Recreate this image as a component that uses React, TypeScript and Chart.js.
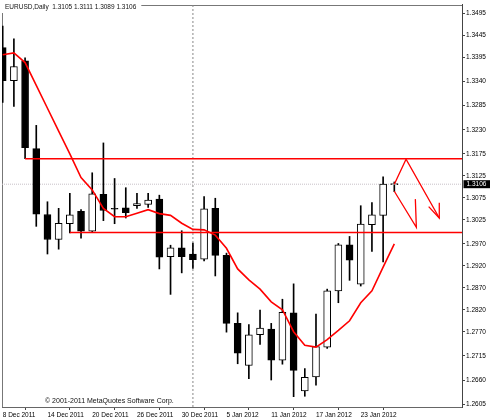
import React, { useEffect, useRef } from "react";
import { Chart, registerables } from "chart.js";

Chart.register(...registerables);

const FONT = '"Liberation Sans", Arial, sans-serif';

const barDates = [
  "8 Dec 2011", "9 Dec 2011", "12 Dec 2011", "13 Dec 2011", "14 Dec 2011", "15 Dec 2011",
  "16 Dec 2011", "19 Dec 2011", "20 Dec 2011", "21 Dec 2011", "22 Dec 2011", "23 Dec 2011",
  "26 Dec 2011", "27 Dec 2011", "28 Dec 2011", "29 Dec 2011", "30 Dec 2011", "2 Jan 2012",
  "3 Jan 2012", "4 Jan 2012", "5 Jan 2012", "6 Jan 2012", "9 Jan 2012", "10 Jan 2012",
  "11 Jan 2012", "12 Jan 2012", "13 Jan 2012", "16 Jan 2012", "17 Jan 2012", "18 Jan 2012",
  "19 Jan 2012", "20 Jan 2012", "23 Jan 2012", "24 Jan 2012", "25 Jan 2012", "26 Jan 2012",
];

const opens = [
  1.3417, 1.3342, 1.3387, 1.3187, 1.3037, 1.2980, 1.3016, 1.3044, 1.2999, 1.3083, 1.3050, 1.3052,
  1.3057, 1.3060, 1.3072, 1.2941, 1.2961, 1.2947, 1.2935, 1.3051, 1.2944, 1.2789, 1.2693, 1.2763,
  1.2776, 1.2705, 1.2813, 1.2635, 1.2667, 1.2735, 1.2863, 1.2968, 1.2878, 1.3014, 1.3035, 1.3105,
];
const highs = [
  1.3466, 1.3437, 1.3394, 1.3240, 1.3066, 1.3051, 1.3085, 1.3048, 1.3132, 1.3200, 1.3119, 1.3098,
  1.3085, 1.3085, 1.3081, 1.2967, 1.3000, 1.2972, 1.3078, 1.3074, 1.2949, 1.2813, 1.2786, 1.2819,
  1.2789, 1.2844, 1.2879, 1.2686, 1.2810, 1.2867, 1.2971, 1.2987, 1.3057, 1.3064, 1.3123, 1.3111,
];
const lows = [
  1.3292, 1.3283, 1.3164, 1.3010, 1.2947, 1.2958, 1.2995, 1.2983, 1.2998, 1.3023, 1.3016, 1.3029,
  1.3051, 1.3053, 1.2913, 1.2855, 1.2904, 1.2914, 1.2931, 1.2897, 1.2769, 1.2697, 1.2663, 1.2741,
  1.2660, 1.2696, 1.2622, 1.2623, 1.2648, 1.2732, 1.2836, 1.2887, 1.2874, 1.2953, 1.2929, 1.3089,
];
const closes = [
  1.3342, 1.3374, 1.3189, 1.3038, 1.2980, 1.3017, 1.3036, 1.2999, 1.3084, 1.3046, 1.3049, 1.3041,
  1.3062, 1.3070, 1.2940, 1.2961, 1.2941, 1.2934, 1.3050, 1.2944, 1.2789, 1.2721, 1.2763, 1.2778,
  1.2705, 1.2814, 1.2682, 1.2666, 1.2736, 1.2863, 1.2968, 1.2933, 1.3015, 1.3036, 1.3106, 1.3106,
];
const maValues = [
  1.3401, 1.3405, 1.3383, 1.3331, 1.3279, 1.3227, 1.3175, 1.3121, 1.3093, 1.3051, 1.3032, 1.3032,
  1.3040, 1.3048, 1.3039, 1.3035, 1.3017, 1.3003, 1.3002, 1.2990, 1.2960, 1.2913, 1.2888, 1.2867,
  1.2838, 1.2820, 1.2770, 1.2739, 1.2735, 1.2752, 1.2773, 1.2795, 1.2836, 1.2863, 1.2917, 1.2970,
];

const xTickBars = [0, 4, 8, 12, 16, 20, 24, 28, 32];
const yTickValues = [
  1.3495, 1.3445, 1.3395, 1.334, 1.3285, 1.323, 1.3175, 1.3125, 1.3075, 1.3025, 1.297, 1.292,
  1.287, 1.282, 1.277, 1.2715, 1.266, 1.2605,
];

const currentPrice = 1.3106;
const separatorBar = 17;
const levelStartBars = [2, 6];
const levelValues = [1.3164, 1.2996];

const arrow1X = [35, 36.05, 39.02];
const arrow1Y = [1.3106, 1.3163, 1.3029];
const arrow1HeadX = [38.07, 39.02, 39.02];
const arrow1HeadY = [1.3055, 1.3029, 1.3064];
const arrow2X = [35, 36.97, 36.88];
const arrow2Y = [1.309, 1.3008, 1.3072];

const headerText = "EURUSD,Daily  1.3105 1.3111 1.3089 1.3106";
const copyrightText = "\u00A9 2001-2011 MetaQuotes Software Corp.";

const xMin = -0.063;
const xMax = 41.05;
const yMin = 1.25985;
const yMax = 1.35144;

const pts = (xs: number[], ys: number[]) => xs.map((x, i) => ({ x, y: ys[i] }));

const decorPlugin = {
  id: "decor",
  beforeDatasetsDraw(chart: any) {
    const { ctx, chartArea: a } = chart;
    ctx.save();
    ctx.strokeStyle = "#777";
    ctx.lineWidth = 1;
    ctx.beginPath();
    ctx.moveTo(Math.round(a.left) + 0.5, a.bottom);
    ctx.lineTo(Math.round(a.left) + 0.5, Math.round(a.top) + 0.5);
    ctx.lineTo(a.right, Math.round(a.top) + 0.5);
    ctx.stroke();
    ctx.restore();
  },
  afterDraw(chart: any) {
    const { ctx, chartArea: a, scales } = chart;
    ctx.save();
    ctx.font = `6.5px ${FONT}`;
    const w = ctx.measureText(headerText).width;
    ctx.fillStyle = "#fff";
    ctx.fillRect(0, 0, w + 10, 13);
    ctx.fillStyle = "#111";
    ctx.textBaseline = "middle";
    ctx.textAlign = "left";
    ctx.fillText(headerText, 5, 7.5);
    ctx.font = `7px ${FONT}`;
    ctx.fillText(copyrightText, 45, 401.5);
    const y = scales.y.getPixelForValue(currentPrice);
    ctx.fillStyle = "#000";
    ctx.fillRect(a.right + 1.5, y - 4, 27, 8);
    ctx.fillStyle = "#fff";
    ctx.font = `6.5px ${FONT}`;
    ctx.fillText(currentPrice.toFixed(4), a.right + 4.5, y + 0.5);
    ctx.restore();
  },
};

export default function App() {
  const ref = useRef<HTMLCanvasElement>(null);

  useEffect(() => {
    document.body.style.margin = "0";
    const idx = opens.map((_, i) => i);
    const bodyColors = idx.map((i) => (closes[i] >= opens[i] ? "#ffffff" : "#000000"));
    const redLine = (data: any[], width: number, order: number) => ({
      type: "line" as const,
      data,
      borderColor: "#ff0000",
      borderWidth: width,
      pointRadius: 0,
      tension: 0,
      fill: false,
      order,
    });

    const chart = new Chart(ref.current!, {
      type: "bar",
      data: {
        datasets: [
          {
            type: "line",
            data: [
              { x: separatorBar, y: yMin },
              { x: separatorBar, y: yMax },
            ],
            borderColor: "#888",
            borderWidth: 1,
            borderDash: [2, 2],
            pointRadius: 0,
            order: 10,
          },
          {
            type: "line",
            data: [
              { x: xMin, y: currentPrice },
              { x: xMax, y: currentPrice },
            ],
            borderColor: "#c8c0c8",
            borderWidth: 1,
            borderDash: [1, 1],
            pointRadius: 0,
            order: 9,
          },
          {
            type: "bar",
            data: idx.map((i) => ({ x: i, y: [lows[i], highs[i]] })),
            backgroundColor: "#000",
            borderWidth: 0,
            barThickness: 1,
            grouped: false,
            order: 6,
          } as any,
          {
            type: "bar",
            data: idx.map((i) => ({ x: i, y: [opens[i], closes[i]] })),
            backgroundColor: bodyColors,
            borderColor: "#000",
            borderWidth: 1,
            borderSkipped: false,
            barThickness: 7,
            minBarLength: 1,
            grouped: false,
            order: 5,
          } as any,
          ...levelValues.map((v, i) =>
            redLine(
              [
                { x: levelStartBars[i], y: v },
                { x: xMax, y: v },
              ],
              1.7,
              2
            )
          ),
          redLine(idx.map((i) => ({ x: i, y: maValues[i] })), 1.6, 1),
          redLine(pts(arrow1X, arrow1Y), 1.3, 0),
          redLine(pts(arrow1HeadX, arrow1HeadY), 1.3, 0),
          redLine(pts(arrow2X, arrow2Y), 1.3, 0),
        ] as any,
      },
      options: {
        responsive: false,
        devicePixelRatio: 1,
        animation: false,
        layout: { padding: { left: 2, top: 2, right: 0, bottom: 0 } },
        plugins: { legend: { display: false }, tooltip: { enabled: false } },
        scales: {
          x: {
            type: "linear",
            min: xMin,
            max: xMax,
            offset: false,
            afterBuildTicks: (s: any) => {
              s.ticks = xTickBars.map((v) => ({ value: v }));
            },
            afterFit: (s: any) => {
              s.height = 13;
            },
            ticks: {
              autoSkip: false,
              maxRotation: 0,
              align: "start",
              padding: 1,
              color: "#000",
              font: { family: FONT, size: 6.5 },
              callback: (v: any) => barDates[Math.round(Number(v))],
            },
            grid: { drawOnChartArea: false, drawTicks: true, tickLength: 3, color: "#444" },
            border: { display: true, color: "#666" },
          },
          y: {
            position: "right",
            min: yMin,
            max: yMax,
            afterBuildTicks: (s: any) => {
              s.ticks = yTickValues.map((v) => ({ value: v }));
            },
            afterFit: (s: any) => {
              s.width = 28;
            },
            ticks: {
              autoSkip: false,
              padding: 1,
              color: "#000",
              font: { family: FONT, size: 6.5 },
              callback: (v: any) => Number(v).toFixed(4),
            },
            grid: { drawOnChartArea: false, drawTicks: true, tickLength: 3, color: "#444" },
            border: { display: true, color: "#444", dash: [2, 1] },
          },
        },
      } as any,
      plugins: [decorPlugin],
    });
    return () => chart.destroy();
  }, []);

  return (
    <div style={{ width: 490, height: 420 }}>
      <canvas ref={ref} width={490} height={420} style={{ display: "block" }} />
    </div>
  );
}
